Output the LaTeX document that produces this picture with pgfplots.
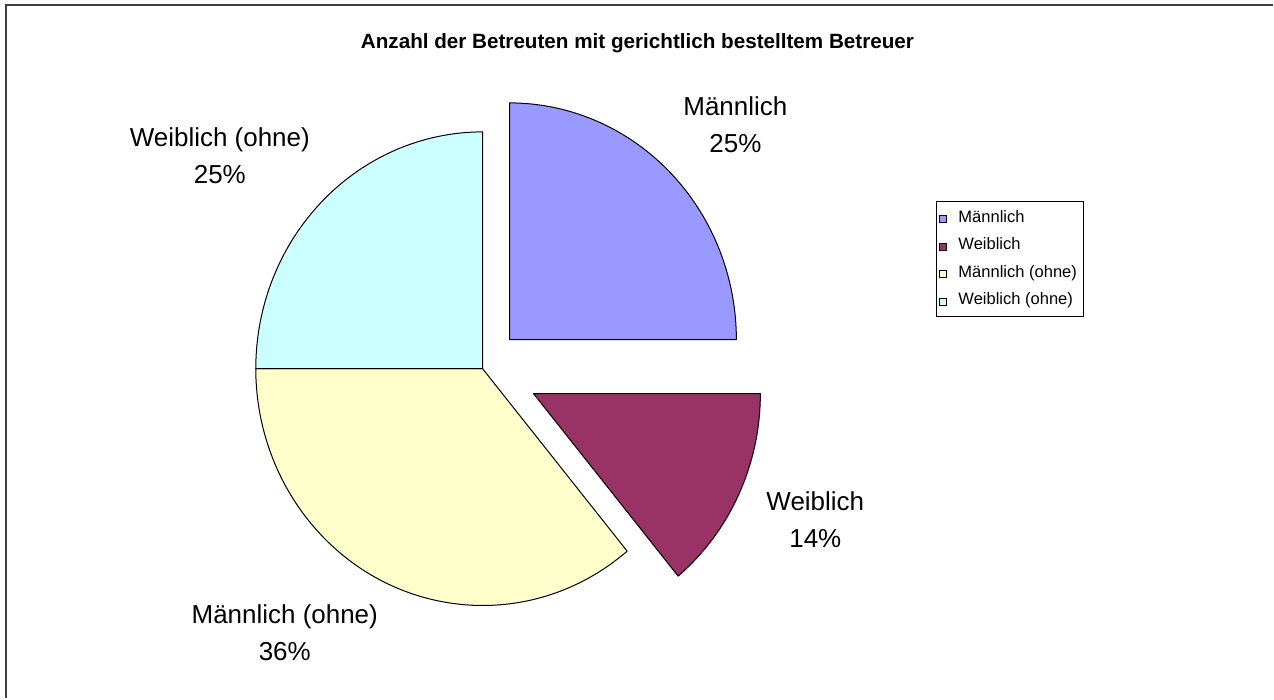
\documentclass[border=0pt]{standalone}
\usepackage{pgfplots}
\pgfplotsset{compat=1.18}
\usepackage{fontspec}
\setmainfont{Liberation Sans}
\definecolor{cM}{HTML}{9999FF}
\definecolor{cW}{HTML}{993366}
\definecolor{cMo}{HTML}{FFFFCC}
\definecolor{cWo}{HTML}{CCFFFF}
% slice: #1 start angle, #2 end angle, #3 dx, #4 dy (explode), #5 colour
\newcommand{\pieslice}[5]{%
  \filldraw[fill=#5, draw=black, line width=0.75pt, line join=round]
    (axis cs:{483+#3},{330+#4}) -- (axis cs:{483+#3+227*cos(#1)},{330+#4+237*sin(#1)})
    arc[start angle=#1, end angle=#2, x radius=170.25pt, y radius=177.75pt] -- cycle;}
\newcommand{\lblfont}{\fontsize{19.5}{23}\selectfont}
\newcommand{\legfont}{\fontsize{12.4}{15}\selectfont}
\begin{document}
\begin{tikzpicture}
\begin{axis}[x=0.75pt, y=0.75pt, xmin=0, xmax=1274, ymin=0, ymax=699,
  hide axis, clip=false]
\path (axis cs:0,0) rectangle (axis cs:1274,699);
% frame (only left and top visible)
\draw[line width=1.6pt, black!75] (axis cs:6,0) -- (axis cs:6,694) -- (axis cs:1274,694);
% title
\node[anchor=base, font=\fontsize{15.5}{18}\selectfont\bfseries] at (axis cs:638,650)
  {Anzahl der Betreuten mit gerichtlich bestelltem Betreuer};
% pie: values in percent, starting at 90 degrees, clockwise
% Maennlich 25, Weiblich 14, Maennlich (ohne) 36, Weiblich (ohne) 25
\pieslice{90}{90-3.6*25}{27}{29}{cM}
\pieslice{0}{0-3.6*14}{51}{-25}{cW}
\pieslice{-50.4}{-50.4-3.6*36}{0}{0}{cMo}
\pieslice{-180}{-180-3.6*25}{0}{0}{cWo}
% data labels
\node[anchor=base, font=\lblfont] at (axis cs:736,583) {Männlich};
\node[anchor=base, font=\lblfont] at (axis cs:736,546) {25\%};
\node[anchor=base, font=\lblfont] at (axis cs:220,552) {Weiblich (ohne)};
\node[anchor=base, font=\lblfont] at (axis cs:220,515) {25\%};
\node[anchor=base, font=\lblfont] at (axis cs:816,188) {Weiblich};
\node[anchor=base, font=\lblfont] at (axis cs:816,151) {14\%};
\node[anchor=base, font=\lblfont] at (axis cs:285,75) {Männlich (ohne)};
\node[anchor=base, font=\lblfont] at (axis cs:285,38) {36\%};
% legend
\draw[black, line width=0.75pt] (axis cs:937,497) rectangle (axis cs:1084,382);
\filldraw[fill=cM, draw=black, line width=0.5pt] (axis cs:940,476) rectangle (axis cs:947,483);
\filldraw[fill=cW, draw=black, line width=0.5pt] (axis cs:940,448.5) rectangle (axis cs:947,455.5);
\filldraw[fill=cMo, draw=black, line width=0.5pt] (axis cs:940,421) rectangle (axis cs:947,428);
\filldraw[fill=cWo, draw=black, line width=0.5pt] (axis cs:940,393.5) rectangle (axis cs:947,400.5);
\node[anchor=base west, inner sep=0pt, font=\legfont] at (axis cs:959,476.5) {Männlich};
\node[anchor=base west, inner sep=0pt, font=\legfont] at (axis cs:959,449) {Weiblich};
\node[anchor=base west, inner sep=0pt, font=\legfont] at (axis cs:959,421.5) {Männlich (ohne)};
\node[anchor=base west, inner sep=0pt, font=\legfont] at (axis cs:959,394) {Weiblich (ohne)};
\end{axis}
\end{tikzpicture}
\end{document}
